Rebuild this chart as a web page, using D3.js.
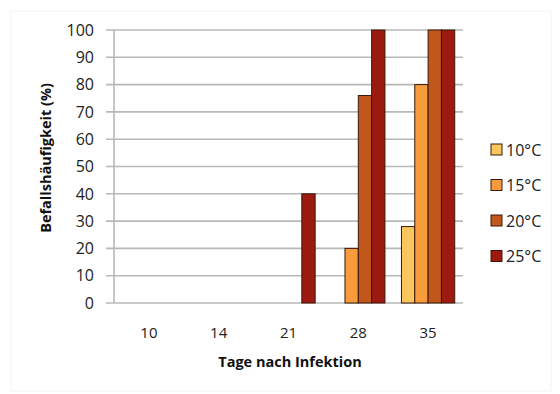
<!DOCTYPE html>
<html>
<head>
<meta charset="utf-8">
<script src="https://cdn.jsdelivr.net/npm/d3@7"></script>
<style>
  body { margin: 0; background: #fff; }
  svg { display: block; }
</style>
</head>
<body>
<svg width="560" height="394"></svg>
<script>
const days = ["10", "14", "21", "28", "35"]
const temps = ["10°C", "15°C", "20°C", "25°C"]
const colors = ["#fac75e", "#f79b3c", "#c1571b", "#9c1a10"]
const t10 = [0, 0, 0, 0, 28]
const t15 = [0, 0, 0, 20, 80]
const t20 = [0, 0, 0, 76, 100]
const t25 = [0, 0, 40, 100, 100]
const yTicks = [0, 10, 20, 30, 40, 50, 60, 70, 80, 90, 100]

const series = [t10, t15, t20, t25]
const data = days.map((d, i) => ({day: d, values: temps.map((t, j) => ({temp: t, value: series[j][i]}))}))

const svg = d3.select("svg")
const font = "'Open Sans', sans-serif"

// faint frame
svg.append("rect")
    .attr("x", 11).attr("y", 11)
    .attr("width", 540).attr("height", 380)
    .attr("fill", "none")
    .attr("stroke", "#f3f3f3")

const xScale = d3.scaleBand().domain(days).range([114, 463])
const inner = d3.scaleBand().domain(temps).range([0, xScale.bandwidth()]).paddingOuter(0.62)
const yScale = d3.scaleLinear().domain([0, 100]).range([303, 30])

// grid
svg.append("g")
    .selectAll("line")
    .data(yTicks)
    .enter()
    .append("line")
    .attr("x1", 106)
    .attr("x2", 463)
    .attr("y1", d => yScale(d))
    .attr("y2", d => yScale(d))
    .attr("stroke", "#b8b8b8")
    .attr("stroke-width", 1.6)

svg.append("line")
    .attr("x1", 114).attr("x2", 114)
    .attr("y1", yScale(0)).attr("y2", yScale(100))
    .attr("stroke", "#b8b8b8")
    .attr("stroke-width", 1.6)

// y labels
svg.append("g")
    .selectAll("text")
    .data(yTicks)
    .enter()
    .append("text")
    .attr("x", 94)
    .attr("y", d => yScale(d))
    .attr("dy", "0.36em")
    .attr("text-anchor", "end")
    .attr("font-family", font)
    .attr("font-size", 16)
    .attr("fill", "#222")
    .text(d => d)

// bars
svg.append("g")
    .selectAll("g.day")
    .data(data)
    .enter()
    .append("g")
    .attr("class", "day")
    .attr("transform", d => `translate(${xScale(d.day)},0)`)
    .selectAll("rect")
    .data(d => d.values.filter(v => v.value > 0))
    .enter()
    .append("rect")
    .attr("x", d => inner(d.temp))
    .attr("y", d => yScale(d.value))
    .attr("width", inner.bandwidth())
    .attr("height", d => yScale(0) - yScale(d.value))
    .attr("fill", d => colors[temps.indexOf(d.temp)])
    .attr("stroke", "#3a1a0a")
    .attr("stroke-width", 1)

// x labels
svg.append("g")
    .selectAll("text")
    .data(days)
    .enter()
    .append("text")
    .attr("x", d => xScale(d) + xScale.bandwidth() / 2)
    .attr("y", 333)
    .attr("dy", "0.36em")
    .attr("text-anchor", "middle")
    .attr("font-family", font)
    .attr("font-size", 15)
    .attr("fill", "#222")
    .text(d => d)

// axis titles
svg.append("text")
    .attr("x", 290).attr("y", 362)
    .attr("dy", "0.36em")
    .attr("text-anchor", "middle")
    .attr("font-family", font)
    .attr("font-size", 14.5)
    .attr("font-weight", "bold")
    .attr("fill", "#111")
    .text("Tage nach Infektion")

svg.append("text")
    .attr("transform", "translate(46,158) rotate(-90)")
    .attr("dy", "0.36em")
    .attr("text-anchor", "middle")
    .attr("font-family", font)
    .attr("font-size", 14.5)
    .attr("font-weight", "bold")
    .attr("fill", "#111")
    .text("Befallshäufigkeit (%)")

// legend
const legend = svg.append("g")
    .selectAll("g")
    .data(temps)
    .enter()
    .append("g")
    .attr("transform", (d, i) => `translate(491,${150 + i * 35.5})`)

legend.append("rect")
    .attr("x", 0).attr("y", -6)
    .attr("width", 11).attr("height", 11)
    .attr("fill", (d, i) => colors[i])
    .attr("stroke", "#3a1a0a")
    .attr("stroke-width", 1)

legend.append("text")
    .attr("x", 15)
    .attr("dy", "0.36em")
    .attr("font-family", font)
    .attr("font-size", 16)
    .attr("fill", "#222")
    .text(d => d)
</script>
</body>
</html>
